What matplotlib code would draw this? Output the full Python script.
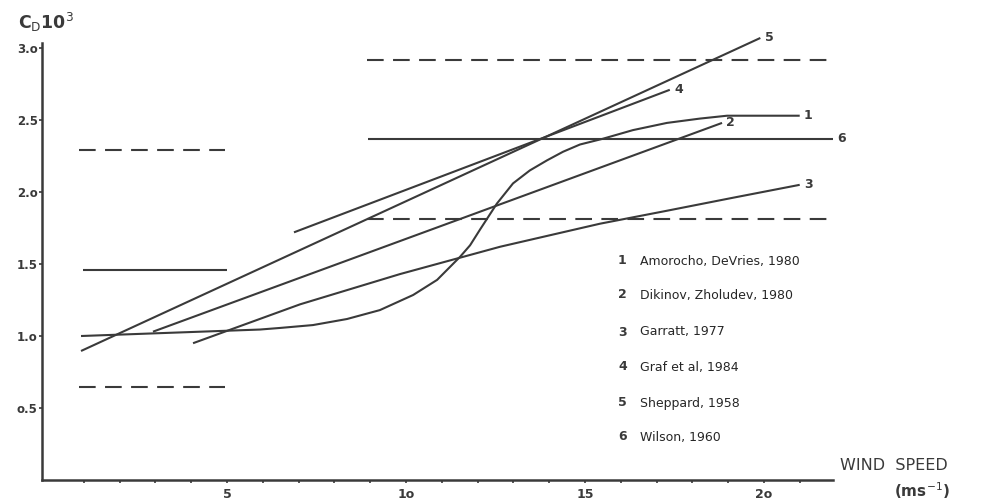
import matplotlib
matplotlib.use("Agg")
import matplotlib.pyplot as plt

# ---- data ----
# 1 Amorocho, DeVries 1980 (S-shaped curve)
amo_x = [0.92, 5.92, 6.48, 7.40, 8.35, 9.27, 10.20, 10.87, 11.51, 11.79, 12.07,
         12.54, 12.99, 13.46, 13.94, 14.39, 14.86, 15.50, 16.34, 17.29, 18.21,
         18.97, 21.0]
amo_y = [1.00, 1.045, 1.056, 1.076, 1.118, 1.18, 1.285, 1.39, 1.55, 1.63, 1.74,
         1.92, 2.06, 2.15, 2.22, 2.28, 2.33, 2.37, 2.43, 2.48, 2.51,
         2.53, 2.53]
# 2 Dikinov, Zholudev 1980
dik_x = [2.93, 18.83]
dik_y = [1.03, 2.48]
# 3 Garratt 1977
gar_x = [4.05, 7.04, 9.83, 12.63, 15.42, 17.29, 19.13, 21.0]
gar_y = [0.95, 1.22, 1.43, 1.62, 1.78, 1.87, 1.96, 2.05]
# 4 Graf et al 1984
graf_x = [6.87, 17.37]
graf_y = [1.72, 2.71]
# 5 Sheppard 1958
shep_x = [0.92, 19.9]
shep_y = [0.896, 3.07]
# 6 Wilson 1960 (light winds / strong winds) and its scatter limits
wil_lo_x = [0.98, 5.0]
wil_lo_y = [1.46, 1.46]
wil_hi_x = [8.94, 21.93]
wil_hi_y = [2.37, 2.37]
lim_lo_x = [0.86, 4.95]
lim_lo_top = 2.29
lim_lo_bot = 0.646
lim_hi_x = [8.92, 21.93]
lim_hi_top = 2.92
lim_hi_bot = 1.81

legend_nums = ["1", "2", "3", "4", "5", "6"]
legend_names = ["Amorocho, DeVries, 1980", "Dikinov, Zholudev, 1980", "Garratt, 1977",
                "Graf et al, 1984", "Sheppard, 1958", "Wilson, 1960"]

ytick_vals = [0.5, 1.0, 1.5, 2.0, 2.5, 3.0]
ytick_text = ["o.5", "1.o", "1.5", "2.o", "2.5", "3.o"]
xtick_vals = [5, 10, 15, 20]
xtick_text = ["5", "1o", "15", "2o"]

ink = "#3a3a3a"
lw = 1.5

fig = plt.figure(figsize=(9.92, 5.03), dpi=100)
ax = fig.add_axes([42 / 992, 23 / 503, (833 - 42) / 992, (480 - 43) / 503])
ax.set_xlim(-0.17, 21.93)
ax.set_ylim(0, 3.035)

for s in ["top", "right"]:
    ax.spines[s].set_visible(False)
for s in ["left", "bottom"]:
    ax.spines[s].set_color(ink)
    ax.spines[s].set_linewidth(1.8)

def solid(x, y):
    ax.plot(x, y, color=ink, lw=lw, clip_on=False, solid_capstyle="butt",
            solid_joinstyle="round")

def dashed(x, yv):
    ax.plot(x, [yv, yv], color=ink, lw=lw, dashes=(8, 4.5), clip_on=False)

solid(amo_x, amo_y)
solid(dik_x, dik_y)
solid(gar_x, gar_y)
solid(graf_x, graf_y)
solid(shep_x, shep_y)
solid(wil_lo_x, wil_lo_y)
solid(wil_hi_x, wil_hi_y)
dashed(lim_lo_x, lim_lo_top)
dashed(lim_lo_x, lim_lo_bot)
dashed(lim_hi_x, lim_hi_top)
dashed(lim_hi_x, lim_hi_bot)

# curve numbers at the ends
ends = [(amo_x[-1], amo_y[-1], "1"), (dik_x[-1], dik_y[-1], "2"),
        (gar_x[-1], gar_y[-1], "3"), (graf_x[-1], graf_y[-1], "4"),
        (shep_x[-1], shep_y[-1], "5"), (wil_hi_x[-1], wil_hi_y[-1], "6")]
for ex, ey, t in ends:
    ax.annotate(t, (ex, ey), xytext=(3, 0), textcoords="offset points",
                ha="left", va="center", fontsize=9, fontweight="bold", color=ink,
                annotation_clip=False)

# axes ticks
ax.set_yticks(ytick_vals)
ax.set_yticklabels(ytick_text, fontsize=8.5, fontweight="bold", color=ink)
ax.tick_params(axis="y", direction="out", length=2, width=1.2, color=ink, pad=1)
ax.set_xticks(xtick_vals)
ax.set_xticklabels(xtick_text, fontsize=9, fontweight="bold", color=ink)
ax.set_xticks(range(1, 22), minor=True)
ax.tick_params(axis="x", which="both", direction="out", length=2.5, width=1.2,
               color=ink, pad=3)

# axis titles
fig.text(18 / 992, 1 - 22 / 503, r"C$_\mathrm{D}$10$^3$", fontsize=12.5,
         fontweight="bold", color=ink, ha="left", va="center")
fig.text(840 / 992, 1 - 466 / 503, "WIND  SPEED", fontsize=11.5, color=ink,
         ha="left", va="center")
fig.text(922 / 992, 1 - 491 / 503, r"(ms$^{-1}$)", fontsize=11, color=ink,
         fontweight="bold", ha="center", va="center")

# legend list
rows_y = [261, 295, 332, 367, 403, 437]
for num, name, py in zip(legend_nums, legend_names, rows_y):
    fig.text(618 / 992, 1 - py / 503, num, fontsize=9, fontweight="bold",
             color=ink, ha="left", va="center")
    fig.text(640 / 992, 1 - py / 503, name, fontsize=9, color="#262626",
             ha="left", va="center")

fig.savefig("out.png", dpi=100, facecolor="white")
